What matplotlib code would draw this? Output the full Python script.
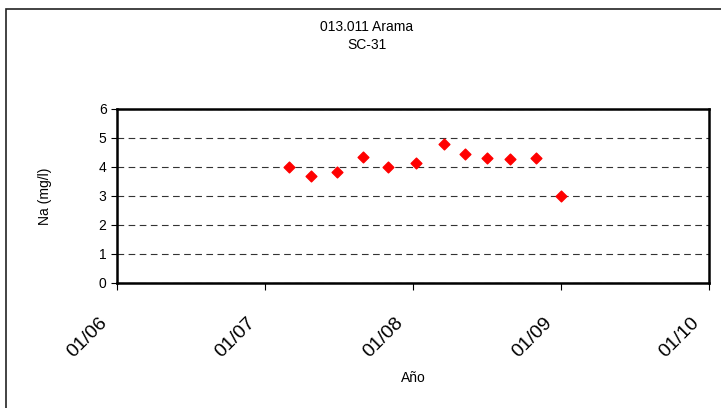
import matplotlib
matplotlib.use("Agg")
import matplotlib.pyplot as plt
import matplotlib.dates as mdates
import matplotlib.transforms as mtransforms
from matplotlib.patches import Rectangle
from datetime import datetime

plt.rcParams['font.family'] = ['Liberation Sans', 'DejaVu Sans']

# sample dates and sodium values
fechas = ["2007-03-01", "2007-04-25", "2007-06-28", "2007-09-01", "2007-11-01",
          "2008-01-09", "2008-03-18", "2008-05-08", "2008-07-03", "2008-08-28",
          "2008-10-30", "2009-01-02"]
na = [4.0, 3.7, 3.84, 4.34, 3.99, 4.15, 4.78, 4.44, 4.32, 4.26, 4.32, 3.0]

x = [datetime.strptime(f, "%Y-%m-%d") for f in fechas]

fig = plt.figure(figsize=(7.21, 4.08), dpi=100)
ax = fig.add_axes([0.1623, 0.3064, 0.821, 0.4266])

# outer frame of the figure (right and bottom edges fall outside the image)
fig.patches.append(Rectangle((0.009, -0.1), 1.2, 1.078, transform=fig.transFigure,
                             fill=False, edgecolor='#222222', linewidth=1.2))

ax.scatter(x, na, marker='D', s=30, color='#ff0000', zorder=3)

ax.set_ylim(0, 6)
ax.set_yticks(range(0, 7))
ax.set_xlim(datetime(2006, 1, 1), datetime(2010, 1, 1))
ax.xaxis.set_major_locator(mdates.YearLocator())
ax.xaxis.set_major_formatter(mdates.DateFormatter('%m/%y'))

ax.yaxis.grid(True, linestyle=(0, (6, 4)), color='#333333', linewidth=0.8)
ax.set_axisbelow(True)
for s in ax.spines.values():
    s.set_linewidth(1.8)

ax.tick_params(axis='x', direction='out', length=5, labelsize=14, pad=6)
ax.tick_params(axis='y', direction='out', length=4, labelsize=10)
shift = mtransforms.ScaledTranslation(-0.18, -0.16, fig.dpi_scale_trans)
for lab in ax.get_xticklabels():
    lab.set_rotation(45)
    lab.set_ha('right')
    lab.set_rotation_mode('anchor')
    lab.set_transform(lab.get_transform() + shift)

ax.set_ylabel('Na (mg/l)', fontsize=10, labelpad=34)
ax.set_xlabel('Año', fontsize=10, labelpad=7)
fig.text(0.509, 0.912, '013.011 Arama\nSC-31', ha='center', va='center',
         fontsize=10, linespacing=1.3)

fig.savefig('out.png', dpi=100)
